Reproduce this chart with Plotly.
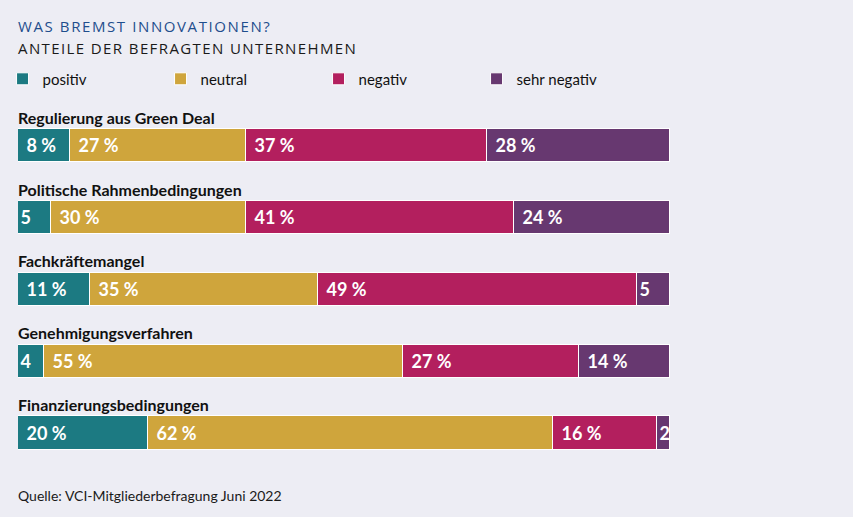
import plotly.graph_objects as go

categories = ["Regulierung aus Green Deal", "Politische Rahmenbedingungen",
              "Fachkräftemangel", "Genehmigungsverfahren", "Finanzierungsbedingungen"]
positiv = [8, 5, 11, 4, 20]
neutral = [27, 30, 35, 55, 62]
negativ = [37, 41, 49, 27, 16]
sehr_negativ = [28, 24, 5, 14, 2]

series = [("positiv", positiv, "#1C7A82"),
          ("neutral", neutral, "#CFA53C"),
          ("negativ", negativ, "#B31F5E"),
          ("sehr negativ", sehr_negativ, "#673870")]

BG = "#EDEDF4"
FONT = "Lato"
TFONT = "Open Sans"

def lab(v):
    return f"\u2004{v} %" if v >= 8 else f"{v}"

fig = go.Figure()
for name, vals, col in series:
    fig.add_trace(go.Bar(
        y=categories, x=vals, name=name, orientation="h",
        marker=dict(color=col, line=dict(color="white", width=1)),
        text=[lab(v) for v in vals], textposition="inside",
        insidetextanchor="start", constraintext="none",
        textfont=dict(color="white", size=18, family=FONT, weight="bold"),
        width=0.46, hoverinfo="skip", cliponaxis=False,
    ))

for c in categories:
    fig.add_annotation(x=0, y=c, xref="x", yref="y", text=f"<b>{c}</b>",
                       showarrow=False, xanchor="left", yanchor="bottom",
                       yshift=17, xshift=-2, font=dict(size=16, color="#111", family=FONT))

fig.update_layout(
    width=853, height=517, barmode="stack",
    paper_bgcolor=BG, plot_bgcolor=BG,
    margin=dict(l=18, r=183, t=110, b=44, autoexpand=False),
    bargap=0,
    uniformtext=dict(minsize=18, mode="show"),
    xaxis=dict(range=[0, 100], visible=False, fixedrange=True),
    yaxis=dict(categoryorder="array", categoryarray=categories, autorange="reversed",
               visible=False),
    showlegend=True,
    legend=dict(orientation="h", x=0.003, y=0.879, xref="container", yref="container",
                xanchor="left", yanchor="top", entrywidth=113, itemclick=False,
                font=dict(size=15, color="#111", family=FONT), bgcolor="rgba(0,0,0,0)",
                traceorder="normal"),
    font=dict(family=FONT),
)

fig.add_annotation(xref="paper", yref="paper", x=0, y=1, yshift=72, xanchor="left",
                   yanchor="bottom", showarrow=False, align="left", xshift=-2,
                   text='<span style="letter-spacing:1.6px">WAS BREMST INNOVATIONEN?</span>',
                   font=dict(size=15, color="#1F4E8D", family=TFONT))
fig.add_annotation(xref="paper", yref="paper", x=0, y=1, yshift=50, xanchor="left",
                   yanchor="bottom", showarrow=False, align="left", xshift=-2,
                   text='<span style="letter-spacing:1.4px">ANTEILE DER BEFRAGTEN UNTERNEHMEN</span>',
                   font=dict(size=15, color="#1a1a1a", family=TFONT))
fig.add_annotation(xref="paper", yref="paper", x=0, y=0, yshift=-33, xanchor="left",
                   yanchor="bottom", showarrow=False, xshift=-2,
                   text="Quelle: VCI-Mitgliederbefragung Juni 2022",
                   font=dict(size=14, color="#1a1a1a", family=FONT))

fig.write_html("out.html", config={"displayModeBar": False},
               post_script="document.body.style.margin='0';")
